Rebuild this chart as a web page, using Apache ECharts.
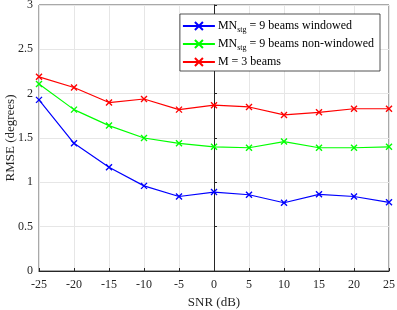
<!DOCTYPE html>
<html><head><meta charset="utf-8">
<script src="https://cdn.jsdelivr.net/npm/echarts@6/dist/echarts.min.js"></script>
<style>html,body{margin:0;padding:0;background:#fff}#c{width:397px;height:310px}</style>
</head><body><div id="c"></div>
<script>
const snr = [-25,-20,-15,-10,-5,0,5,10,15,20,25];
const windowed = [1.93,1.44,1.17,0.96,0.84,0.89,0.86,0.77,0.865,0.84,0.775];
const nonWindowed = [2.11,1.82,1.64,1.50,1.44,1.40,1.39,1.46,1.39,1.39,1.40];
const threeBeams = [2.19,2.07,1.90,1.94,1.82,1.87,1.85,1.76,1.79,1.83,1.83];
const names = ['MN_stg = 9 beams windowed','MN_stg = 9 beams non-windowed','M = 3 beams'];
const yTicks = [0,0.5,1,1.5,2,2.5,3];
const F = 'Liberation Serif';
const cross = 'path://M0,0L10,10M10,0L0,10';
function ser(name, data, color){
  return {name, type:'line', data: snr.map((x,i)=>[x,data[i]]), symbol: cross, symbolSize:6,
    lineStyle:{color, width:1.2}, itemStyle:{color:'none', borderColor:color, borderWidth:1.4}, showSymbol:true};
}
const chart = echarts.init(document.getElementById('c'));
chart.setOption({
  animation:false,
  grid:{left:39,right:8,top:5,bottom:39,outerBoundsMode:'none',containLabel:false,show:true,borderColor:'#262626',borderWidth:0.8},
  legend:{
    right:17, top:14, orient:'vertical', backgroundColor:'#fff', borderColor:'#262626', borderWidth:0.8,
    padding:[3,6,0,2], itemGap:0, itemWidth:32, itemHeight:10,
    textStyle:{fontFamily:F,fontSize:12,color:'#000',padding:[0,0,0,-2],lineHeight:18,
      rich:{a:{fontFamily:F,fontSize:12,color:'#000',lineHeight:18},
            s:{fontFamily:F,fontSize:8,color:'#000',lineHeight:18,padding:[8,0,0,0]}}},
    formatter: function(n){
      if(n.indexOf('MN_stg')===0){return '{a|MN}{s|stg}{a|'+n.slice(6)+'}';}
      return '{a|'+n+'}';
    },
    data: names.map(n=>({name:n}))
  },
  xAxis:{type:'value',min:-25,max:25,interval:5,name:'SNR (dB)',nameLocation:'middle',nameGap:25,
    nameTextStyle:{fontFamily:F,fontSize:13,color:'#262626'},
    axisLine:{lineStyle:{color:'#262626'}},axisTick:{inside:true,length:3,lineStyle:{color:'#262626'}},
    axisLabel:{fontFamily:F,fontSize:12,color:'#262626',margin:8},
    splitLine:{show:true,lineStyle:{color:'#e6e6e6',width:1}}},
  yAxis:{type:'value',min:0,max:3,interval:0.5,name:'RMSE (degrees)',nameLocation:'middle',nameGap:22,nameMoveOverlap:false,
    nameTextStyle:{fontFamily:F,fontSize:13,color:'#262626'},
    axisLine:{lineStyle:{color:'#262626'}},axisTick:{inside:true,length:3,lineStyle:{color:'#262626'}},
    axisLabel:{fontFamily:F,fontSize:12,color:'#262626',margin:6,formatter:v=>yTicks.includes(v)?String(v):''},
    splitLine:{show:true,lineStyle:{color:'#e6e6e6',width:1}}},
  series:[ser(names[0],windowed,'#0000ff'),ser(names[1],nonWindowed,'#00ff00'),ser(names[2],threeBeams,'#ff0000')]
});
</script></body></html>
